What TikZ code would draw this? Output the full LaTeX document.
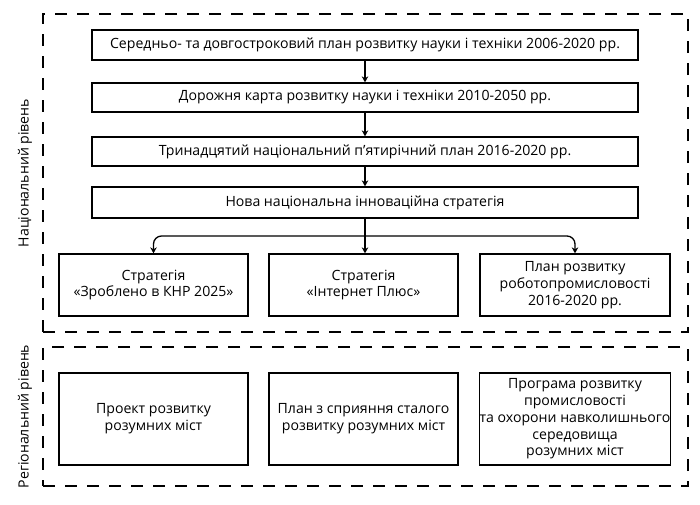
\documentclass[tikz,border=0pt]{standalone}
\usepackage{fontspec}
\setmainfont{Open Sans}
\usetikzlibrary{arrows.meta}
\begin{document}
\begin{tikzpicture}[x=1pt,y=-1pt,
  txt/.style={font=\fontsize{14.1}{16.8}\selectfont},
  box/.style={draw, line width=1.3pt, align=center, inner sep=0pt, txt},
  frame/.style={draw, line width=1.8pt, dash pattern=on 12pt off 10pt, inner sep=0pt},
  arr/.style={line width=1.3pt, -{Stealth[length=6pt,width=6.5pt]}}]
\useasboundingbox (0,0) rectangle (700,504);
% frames
\node[frame, minimum width=645pt, minimum height=318pt] (nat) at (365.5,173) {};
\node[frame, minimum width=645pt, minimum height=139pt] (reg) at (365.5,416.5) {};
\node[txt, rotate=90] (natl) at (25,173) {Національний рівень};
\node[txt, rotate=90] (regl) at (25,416.5) {Регіональний рівень};
% national boxes
\node[box, minimum width=546pt, minimum height=30pt] (b1) at (365,45) {Середньо- та довгостроковий план розвитку науки і техніки 2006-2020 рр.};
\node[box, minimum width=546pt, minimum height=29pt] (b2) at (365,97.5) {Дорожня карта розвитку науки і техніки 2010-2050 рр.};
\node[box, minimum width=546pt, minimum height=29pt] (b3) at (365,151.5) {Тринадцятий національний п’ятирічний план 2016-2020 рр.};
\node[box, minimum width=546pt, minimum height=31pt] (b4) at (365,202.5) {Нова національна інноваційна стратегія};
\node[box, minimum width=189pt, minimum height=62pt] (A) at (153.5,285) {Стратегія\\«Зроблено в КНР 2025»};
\node[box, minimum width=189pt, minimum height=62pt] (B) at (363.5,285) {Стратегія\\«Інтернет Плюс»};
\node[box, minimum width=190pt, minimum height=62pt] (C) at (575,285) {План розвитку\\роботопромисловості\\2016-2020 рр.};
% regional boxes
\node[box, minimum width=189pt, minimum height=92pt] (R1) at (153.5,419) {Проект розвитку\\розумних міст};
\node[box, minimum width=189pt, minimum height=92pt] (R2) at (363.5,419) {План з сприяння сталого\\розвитку розумних міст};
\node[box, minimum width=190pt, minimum height=92pt] (R3) at (575,419) {Програма розвитку\\промисловості\\та охорони навколишнього\\середовища\\розумних міст};
% arrows
\draw[arr] (b1) -- (b2);
\draw[arr] (b2) -- (b3);
\draw[arr] (b3) -- (b4);
\coordinate (j) at (365,236);
\draw[arr] (b4.south) -- (b4.south |- B.north);
\draw[arr, rounded corners=8pt] (j) -| (A.north);
\draw[arr, rounded corners=8pt] (j) -| (C.north);
\end{tikzpicture}
\end{document}
